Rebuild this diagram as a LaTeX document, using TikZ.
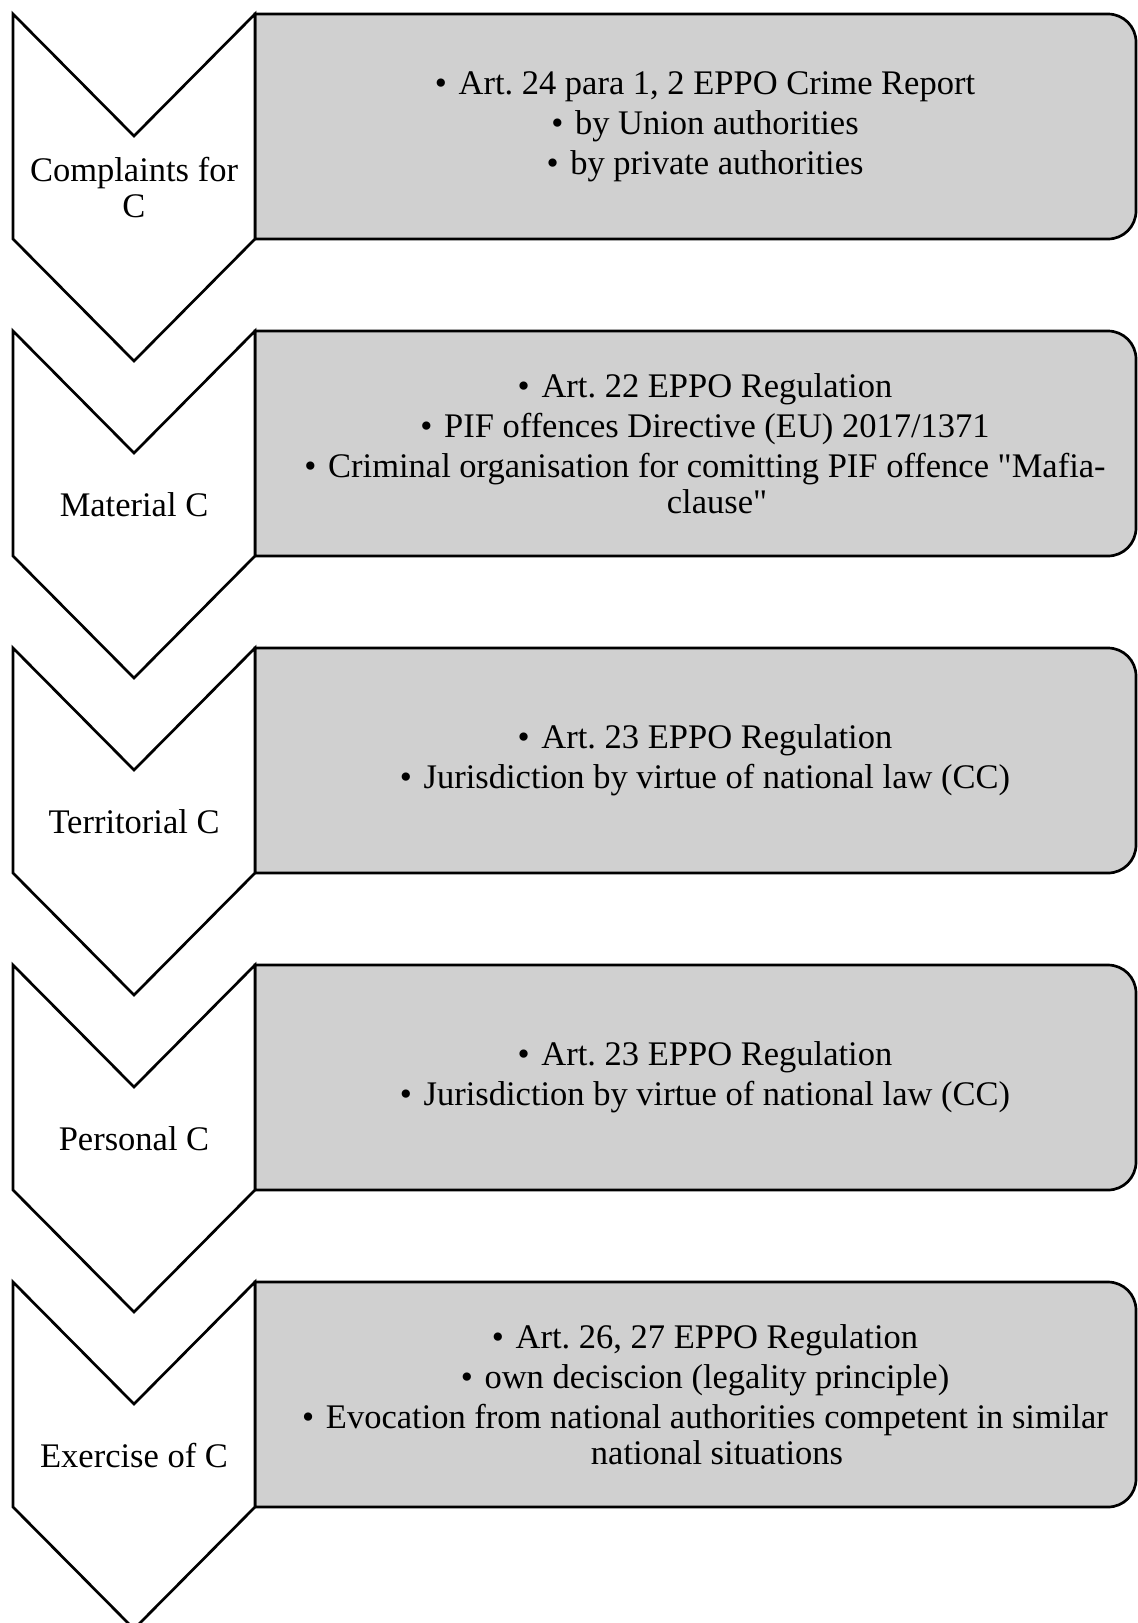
\documentclass[tikz,border=0pt]{standalone}
\usepackage{fontspec}
\setmainfont{Liberation Serif}[Ligatures=TeXOff]
\definecolor{boxgray}{RGB}{208,208,208}
\newcommand\bul{•\hskip0.34em\relax}
\newcommand\contline{\hspace*{12pt}}
\newcommand\mystage[4]{%
  \draw[panel] (255,#2) -- (1108,#2) .. controls (1123.46,#2) and (1136,#2+12.54) .. (1136,#2+28)
     -- (1136,#2+197) .. controls (1136,#2+212.46) and (1123.46,#2+225) .. (1108,#2+225)
     -- (255,#2+225) -- cycle;
  \draw[chev] (13,#2) -- (134,#2+122) -- (255,#2) -- (255,#2+225) -- (134,#2+347) -- (13,#2+225) -- cycle;
  \node[lbl] (lbl#1) at (134,#2+173.5) {#3};
  \node[lbl] (txt#1) at (705,#2+112.5) {#4};
}
\begin{document}
\frenchspacing
\begin{tikzpicture}[x=0.5pt,y=-0.5pt,
  chev/.style={draw=black,fill=white,line width=1.35pt,line join=miter},
  panel/.style={draw=black,fill=boxgray,line width=1.35pt},
  lbl/.style={align=center,font=\fontsize{17.25pt}{17.75pt}\selectfont,inner sep=0pt}]
\useasboundingbox (0,0) rectangle (1137,1623);
\fill[white] (0,0) rectangle (1137,1623);
\mystage{1}{14}{Complaints for\\C}{\bul Art. 24 para 1, 2 EPPO Crime Report\\[2.25pt]\bul by Union authorities\\[2.25pt]\bul by private authorities}
\mystage{2}{331}{Material C}{\bul Art. 22 EPPO Regulation\\[2.25pt]\bul PIF offences Directive (EU) 2017/1371\\[2.25pt]\bul Criminal organisation for comitting PIF offence "Mafia-\\\contline clause"}
\mystage{3}{648}{Territorial C}{\bul Art. 23 EPPO Regulation\\[2.25pt]\bul Jurisdiction by virtue of national law (CC)}
\mystage{4}{965}{Personal C}{\bul Art. 23 EPPO Regulation\\[2.25pt]\bul Jurisdiction by virtue of national law (CC)}
\mystage{5}{1282}{Exercise of C}{\bul Art. 26, 27 EPPO Regulation\\[2.25pt]\bul own deciscion (legality principle)\\[2.25pt]\bul Evocation from national authorities competent in similar\\\contline national situations}
\end{tikzpicture}
\end{document}
